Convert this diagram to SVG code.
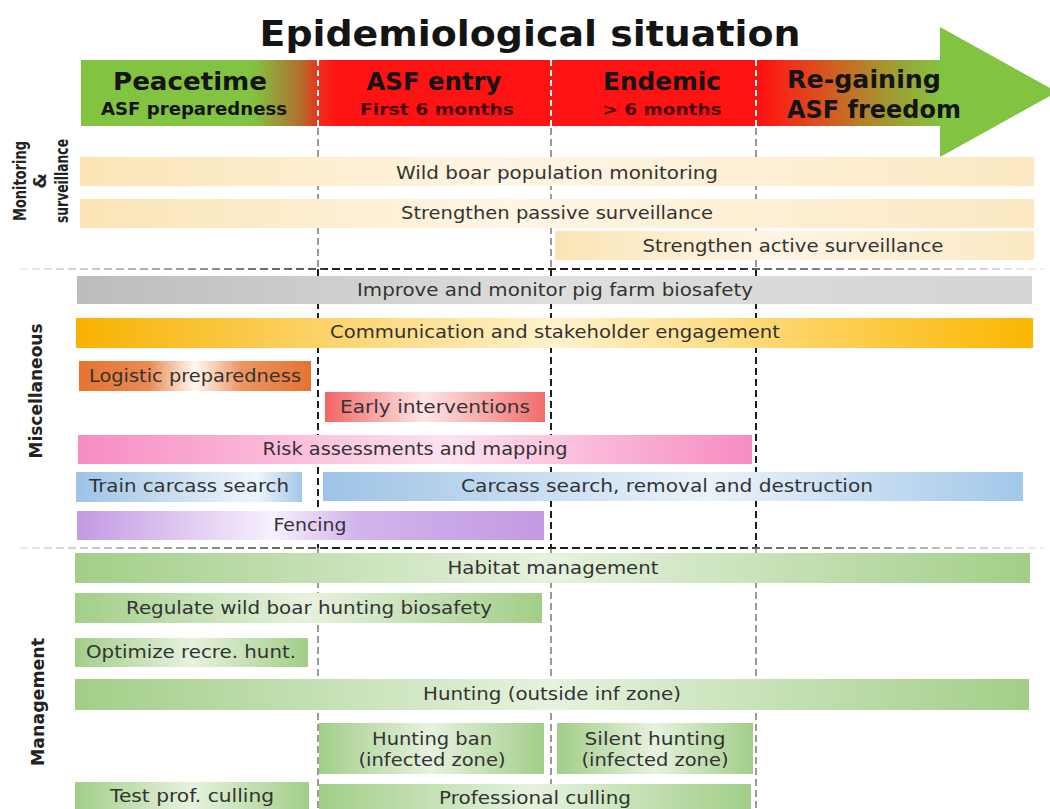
<svg xmlns="http://www.w3.org/2000/svg" width="1050" height="809" viewBox="0 0 1050 809">
<defs>
<style>
.lbl{font-family:"DejaVu Sans","Liberation Sans",sans-serif;font-size:17px;fill:#333;text-anchor:middle}
.hd{font-family:"DejaVu Sans","Liberation Sans",sans-serif;font-weight:bold;fill:#141414;text-anchor:middle}
.side{font-family:"DejaVu Sans","Liberation Sans",sans-serif;font-weight:bold;font-size:18px;fill:#222;text-anchor:middle}
.vg{stroke:#9a9a9a;stroke-width:2;stroke-dasharray:7 4;fill:none}
.vk{stroke:#1e1e1e;stroke-width:2;stroke-dasharray:7 4;fill:none}
.vw{stroke:#ffffff;stroke-width:2;stroke-dasharray:6 4;fill:none}
</style>
<linearGradient id="band" x1="0" y1="0" x2="1" y2="0">
<stop offset="0" stop-color="#82c341"/><stop offset="0.2" stop-color="#82c341"/><stop offset="0.255" stop-color="#b0702e"/><stop offset="0.28" stop-color="#f2281a"/><stop offset="0.3" stop-color="#ff1212"/><stop offset="0.79" stop-color="#ff1212"/><stop offset="0.85" stop-color="#e2481c"/><stop offset="0.93" stop-color="#a8922e"/><stop offset="1" stop-color="#82c341"/>
</linearGradient>
<linearGradient id="sep" gradientUnits="userSpaceOnUse" x1="20" y1="0" x2="1045" y2="0">
<stop offset="0" stop-color="#eeeeee"/><stop offset="0.29" stop-color="#555"/><stop offset="0.3" stop-color="#1e1e1e"/><stop offset="0.7" stop-color="#1e1e1e"/><stop offset="0.72" stop-color="#666"/><stop offset="1" stop-color="#f2f2f2"/>
</linearGradient>
<linearGradient id="cream" x1="0" y1="0" x2="1" y2="0"><stop offset="0" stop-color="#fbe5b6"/><stop offset="0.45" stop-color="#fef5e4"/><stop offset="1" stop-color="#fce9c3"/></linearGradient>
<linearGradient id="grey" x1="0" y1="0" x2="1" y2="0"><stop offset="0" stop-color="#bcbcbc"/><stop offset="0.5" stop-color="#dedede"/><stop offset="1" stop-color="#d4d4d4"/></linearGradient>
<linearGradient id="orange" x1="0" y1="0" x2="1" y2="0"><stop offset="0" stop-color="#f8b200"/><stop offset="0.5" stop-color="#fff2cc"/><stop offset="1" stop-color="#fbb600"/></linearGradient>
<linearGradient id="logi" x1="0" y1="0" x2="1" y2="0"><stop offset="0" stop-color="#e6732f"/><stop offset="0.3" stop-color="#ea8a52"/><stop offset="0.5" stop-color="#fff8f2"/><stop offset="0.7" stop-color="#ec9562"/><stop offset="1" stop-color="#e6732f"/></linearGradient>
<linearGradient id="early" x1="0" y1="0" x2="1" y2="0"><stop offset="0" stop-color="#f26565"/><stop offset="0.45" stop-color="#fde6e6"/><stop offset="1" stop-color="#f26b6b"/></linearGradient>
<linearGradient id="pink" x1="0" y1="0" x2="1" y2="0"><stop offset="0" stop-color="#f78cc1"/><stop offset="0.55" stop-color="#fde2ef"/><stop offset="1" stop-color="#f78cc1"/></linearGradient>
<linearGradient id="blue" x1="0" y1="0" x2="1" y2="0"><stop offset="0" stop-color="#9ec3e6"/><stop offset="0.55" stop-color="#eaf2fa"/><stop offset="1" stop-color="#a3c8e9"/></linearGradient>
<linearGradient id="blue2" x1="0" y1="0" x2="1" y2="0"><stop offset="0" stop-color="#9ec3e6"/><stop offset="0.8" stop-color="#eef5fb"/><stop offset="1" stop-color="#a3c8e9"/></linearGradient>
<linearGradient id="purple" x1="0" y1="0" x2="1" y2="0"><stop offset="0" stop-color="#c29ae2"/><stop offset="0.42" stop-color="#f7f0fd"/><stop offset="0.6" stop-color="#d2b4ec"/><stop offset="1" stop-color="#c29ae2"/></linearGradient>
<linearGradient id="green" x1="0" y1="0" x2="1" y2="0"><stop offset="0" stop-color="#a2ce88"/><stop offset="0.5" stop-color="#e6f2de"/><stop offset="1" stop-color="#a2ce88"/></linearGradient>
</defs>
<rect width="1050" height="809" fill="#ffffff"/>

<text class="hd" x="530" y="46" font-size="36" textLength="541" lengthAdjust="spacingAndGlyphs">Epidemiological situation</text>

<g id="header">
<rect x="81" y="60" width="860" height="66" fill="url(#band)"/>
<polygon points="940,27 1057,92 940,157" fill="#82c341"/>
<text class="hd" x="190" y="90" font-size="24" textLength="154" lengthAdjust="spacingAndGlyphs">Peacetime</text>
<text class="hd" x="194" y="115" font-size="17" textLength="186" lengthAdjust="spacingAndGlyphs">ASF preparedness</text>
<text class="hd" x="434" y="90" font-size="24" textLength="135" lengthAdjust="spacingAndGlyphs">ASF entry</text>
<text class="hd" x="437" y="115" font-size="16" style="fill:#4a0606" textLength="154" lengthAdjust="spacingAndGlyphs">First 6 months</text>
<text class="hd" x="662" y="90" font-size="24" textLength="118" lengthAdjust="spacingAndGlyphs">Endemic</text>
<text class="hd" x="662" y="115" font-size="16" style="fill:#4a0606" textLength="119" lengthAdjust="spacingAndGlyphs">&gt; 6 months</text>
<text class="hd" x="864" y="88" font-size="25" textLength="154" lengthAdjust="spacingAndGlyphs">Re-gaining</text>
<text class="hd" x="874" y="118" font-size="25" textLength="174" lengthAdjust="spacingAndGlyphs">ASF freedom</text>
</g>

<g id="connectors">
<line class="vw" x1="318" y1="60" x2="318" y2="126"/>
<line class="vw" x1="551" y1="60" x2="551" y2="126"/>
<line class="vw" x1="756" y1="60" x2="756" y2="126"/>
<line class="vg" x1="318" y1="128" x2="318" y2="269"/>
<line class="vg" x1="551" y1="128" x2="551" y2="269"/>
<line class="vg" x1="756" y1="128" x2="756" y2="269"/>
<line class="vk" x1="318" y1="269" x2="318" y2="548"/>
<line class="vk" x1="551" y1="269" x2="551" y2="548"/>
<line class="vk" x1="756" y1="269" x2="756" y2="548"/>
<line class="vg" x1="318" y1="548" x2="318" y2="809"/>
<line class="vg" x1="551" y1="548" x2="551" y2="809"/>
<line class="vg" x1="756" y1="548" x2="756" y2="809"/>
<line x1="20" y1="269" x2="1045" y2="269" stroke="url(#sep)" stroke-width="2" stroke-dasharray="8 4"/>
<line x1="20" y1="548" x2="1045" y2="548" stroke="url(#sep)" stroke-width="2" stroke-dasharray="8 4"/>
</g>

<g id="side-labels">
<text class="side" transform="translate(26,181) rotate(-90)" textLength="80" lengthAdjust="spacingAndGlyphs">Monitoring</text>
<text class="side" transform="translate(46,181) rotate(-90)">&amp;</text>
<text class="side" transform="translate(68,181) rotate(-90)" textLength="84" lengthAdjust="spacingAndGlyphs">surveillance</text>
<text class="side" transform="translate(42,391) rotate(-90)" textLength="135" lengthAdjust="spacingAndGlyphs">Miscellaneous</text>
<text class="side" transform="translate(44,702) rotate(-90)" textLength="128" lengthAdjust="spacingAndGlyphs">Management</text>
</g>

<g id="wild-boar-monitoring"><rect x="80" y="157" width="954" height="29" fill="url(#cream)"/><text class="lbl" x="557" y="179" textLength="322" lengthAdjust="spacingAndGlyphs">Wild boar population monitoring</text></g>
<g id="passive-surveillance"><rect x="80" y="199" width="954" height="29" fill="url(#cream)"/><text class="lbl" x="557" y="219" textLength="312" lengthAdjust="spacingAndGlyphs">Strengthen passive surveillance</text></g>
<g id="active-surveillance"><rect x="555" y="231" width="479" height="29" fill="url(#cream)"/><text class="lbl" x="793" y="252" textLength="301" lengthAdjust="spacingAndGlyphs">Strengthen active surveillance</text></g>

<g id="pig-farm-biosafety"><rect x="77" y="276" width="955" height="28" fill="url(#grey)"/><text class="lbl" x="555" y="296" textLength="396" lengthAdjust="spacingAndGlyphs">Improve and monitor pig farm biosafety</text></g>
<g id="communication"><rect x="76" y="318" width="957" height="30" fill="url(#orange)"/><text class="lbl" x="555" y="338" textLength="450" lengthAdjust="spacingAndGlyphs">Communication and stakeholder engagement</text></g>
<g id="logistic"><rect x="79" y="361" width="232" height="30" fill="url(#logi)"/><text class="lbl" x="195" y="382" textLength="212" lengthAdjust="spacingAndGlyphs">Logistic preparedness</text></g>
<g id="early-interventions"><rect x="325" y="392" width="220" height="30" fill="url(#early)"/><text class="lbl" x="435" y="413" textLength="190" lengthAdjust="spacingAndGlyphs">Early interventions</text></g>
<g id="risk-assessments"><rect x="78" y="435" width="674" height="29" fill="url(#pink)"/><text class="lbl" x="415" y="455" textLength="305" lengthAdjust="spacingAndGlyphs">Risk assessments and mapping</text></g>
<g id="train-carcass"><rect x="76" y="472" width="226" height="30" fill="url(#blue2)"/><text class="lbl" x="189" y="492" textLength="200" lengthAdjust="spacingAndGlyphs">Train carcass search</text></g>
<g id="carcass-search"><rect x="323" y="472" width="700" height="29" fill="url(#blue)"/><text class="lbl" x="667" y="492" textLength="412" lengthAdjust="spacingAndGlyphs">Carcass search, removal and destruction</text></g>
<g id="fencing"><rect x="77" y="511" width="467" height="29" fill="url(#purple)"/><text class="lbl" x="310" y="531" textLength="73" lengthAdjust="spacingAndGlyphs">Fencing</text></g>

<g id="habitat"><rect x="75" y="553" width="955" height="30" fill="url(#green)"/><text class="lbl" x="553" y="574" textLength="211" lengthAdjust="spacingAndGlyphs">Habitat management</text></g>
<g id="regulate-hunting"><rect x="75" y="593" width="467" height="30" fill="url(#green)"/><text class="lbl" x="309" y="614" textLength="366" lengthAdjust="spacingAndGlyphs">Regulate wild boar hunting biosafety</text></g>
<g id="optimize-hunt"><rect x="75" y="638" width="233" height="29" fill="url(#green)"/><text class="lbl" x="191" y="658" textLength="210" lengthAdjust="spacingAndGlyphs">Optimize recre. hunt.</text></g>
<g id="hunting-outside"><rect x="75" y="679" width="954" height="31" fill="url(#green)"/><text class="lbl" x="552" y="700" textLength="258" lengthAdjust="spacingAndGlyphs">Hunting (outside inf zone)</text></g>
<g id="hunting-ban"><rect x="319" y="723" width="225" height="51" fill="url(#green)"/><text class="lbl" x="432" y="745" textLength="120" lengthAdjust="spacingAndGlyphs">Hunting ban</text><text class="lbl" x="432" y="766" textLength="147" lengthAdjust="spacingAndGlyphs">(infected zone)</text></g>
<g id="silent-hunting"><rect x="557" y="723" width="196" height="51" fill="url(#green)"/><text class="lbl" x="655" y="745" textLength="141" lengthAdjust="spacingAndGlyphs">Silent hunting</text><text class="lbl" x="655" y="766" textLength="147" lengthAdjust="spacingAndGlyphs">(infected zone)</text></g>
<g id="test-culling"><rect x="75" y="782" width="234" height="27" fill="url(#green)"/><text class="lbl" x="192" y="802" textLength="164" lengthAdjust="spacingAndGlyphs">Test prof. culling</text></g>
<g id="professional-culling"><rect x="319" y="784" width="432" height="25" fill="url(#green)"/><text class="lbl" x="535" y="804" textLength="192" lengthAdjust="spacingAndGlyphs">Professional culling</text></g>
</svg>
